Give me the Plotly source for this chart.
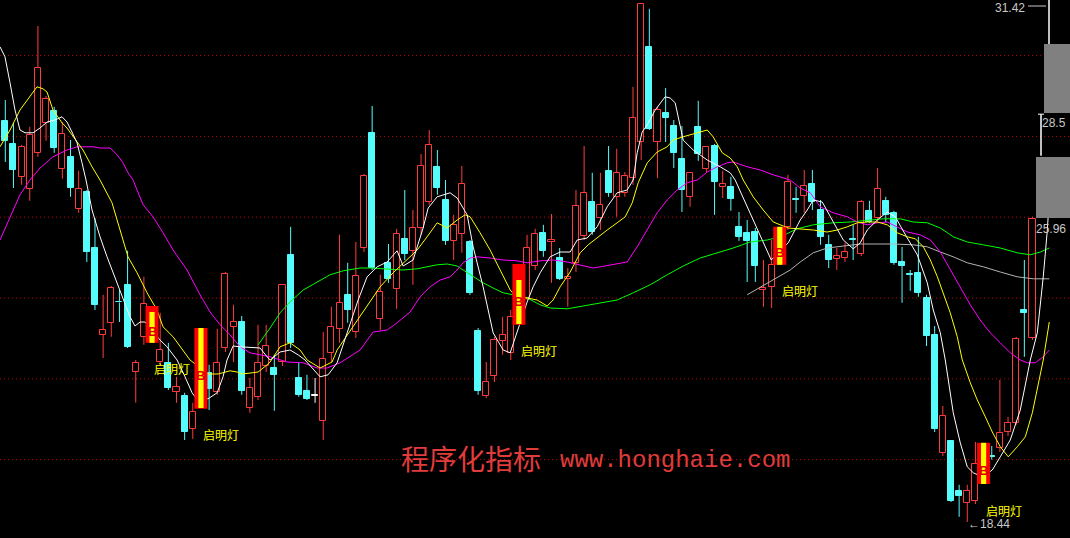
import plotly.graph_objects as go

# ---------------- data ----------------
bar_index = list(range(-1, 127))
open_price = [
    28.69,
    28.47, 27.89, 27.07, 26.77, 27.67, 28.42, 28.72, 27.27, 27.57, 26.27,
    26.69, 25.29, 23.12, 23.42, 23.95, 24.37, 22.19, 23.07, 22.92, 22.44,
    22.42, 21.69, 21.59, 20.77, 21.29, 22.17, 21.69, 22.79, 23.32, 23.44,
    21.29, 21.57, 22.34, 22.29, 22.44, 25.12, 22.04, 21.72, 21.59, 20.97,
    22.67, 23.27, 24.12, 23.19, 25.29, 28.17, 23.52, 24.92, 24.27, 25.52,
    25.22, 25.79, 26.44, 27.32, 26.49, 25.47, 25.64, 25.44, 23.22, 21.59,
    22.09, 22.97, 22.67, 23.39, 24.04, 24.84, 25.67, 25.44, 25.04, 24.52,
    24.92, 25.59, 26.44, 26.04, 27.22, 26.57, 26.67, 27.04, 27.94, 30.32,
    27.94, 28.67, 28.34, 27.52, 26.57, 28.32, 27.27, 27.84, 26.82, 26.82,
    25.82, 25.67, 25.69, 24.24, 24.32, 24.87, 25.82, 26.50, 26.59, 26.89,
    26.24, 25.37, 25.02, 25.04, 25.50, 25.14, 26.22, 26.04, 26.47, 26.17,
    24.94, 24.63, 24.67, 24.04, 23.12, 20.17, 20.47, 19.22, 18.92, 18.97,
    19.39, 20.08, 20.29, 20.69, 20.92, 23.74, 23.04,
]
high_price = [
    29.65,
    28.99, 28.42, 27.87, 28.32, 30.84, 29.09, 28.82, 28.44, 27.99, 27.22,
    26.74, 26.04, 24.12, 24.34, 24.24, 25.22, 22.49, 24.57, 23.84, 23.67,
    22.92, 22.07, 21.67, 21.42, 23.29, 22.37, 23.27, 24.69, 23.87, 23.59,
    22.04, 23.37, 23.37, 22.62, 24.39, 25.82, 22.42, 22.12, 22.04, 23.19,
    23.82, 25.62, 24.92, 25.44, 27.14, 28.84, 24.62, 25.39, 25.77, 26.74,
    26.24, 27.64, 28.24, 27.74, 26.99, 26.12, 27.34, 25.49, 23.29, 22.44,
    23.07, 23.57, 23.74, 24.89, 25.62, 25.77, 25.87, 26.14, 25.29, 24.79,
    26.74, 27.84, 27.17, 27.17, 27.84, 27.77, 27.19, 29.32, 31.42, 31.27,
    28.82, 29.29, 28.49, 28.34, 27.19, 28.97, 27.84, 27.89, 27.22, 27.07,
    26.19, 25.99, 25.79, 24.99, 25.49, 25.82, 27.12, 26.82, 27.24, 27.24,
    26.49, 25.62, 25.29, 25.42, 25.87, 26.49, 26.47, 27.29, 26.57, 26.22,
    25.32, 24.74, 25.57, 24.12, 23.34, 21.34, 20.49, 19.37, 19.37, 20.44,
    20.42, 20.34, 21.99, 21.07, 23.07, 24.99, 26.07,
]
low_price = [
    28.60,
    27.44, 26.79, 26.87, 26.47, 27.57, 27.97, 27.67, 27.02, 26.57, 26.17,
    24.94, 23.74, 22.54, 23.07, 23.44, 22.79, 21.42, 22.87, 22.92, 22.34,
    21.74, 21.42, 20.49, 20.52, 21.27, 21.24, 21.62, 22.69, 22.44, 21.62,
    21.17, 21.49, 22.19, 21.22, 22.34, 22.79, 21.57, 21.49, 21.42, 20.49,
    22.44, 22.92, 23.42, 23.04, 25.19, 24.74, 23.24, 24.42, 23.77, 24.99,
    24.37, 25.62, 26.37, 26.62, 25.37, 24.99, 25.17, 24.12, 21.62, 21.54,
    21.94, 22.62, 22.49, 23.37, 23.99, 24.74, 25.07, 24.42, 24.49, 23.82,
    24.69, 25.49, 25.62, 25.74, 26.57, 26.07, 26.57, 26.87, 27.49, 28.24,
    27.04, 27.94, 27.29, 26.19, 26.32, 27.47, 27.19, 26.12, 26.54, 26.22,
    25.47, 24.44, 24.44, 23.82, 23.79, 24.87, 25.74, 26.17, 26.17, 26.24,
    25.37, 24.79, 24.74, 24.94, 24.99, 25.09, 25.92, 25.94, 25.94, 24.87,
    23.92, 24.22, 24.07, 22.84, 20.69, 20.09, 18.94, 18.57, 18.44, 18.89,
    19.39, 20.00, 20.19, 20.59, 20.87, 22.57, 22.99,
]
close_price = [
    29.59,
    27.97, 27.24, 27.82, 28.12, 29.79, 29.02, 27.79, 28.14, 26.79, 26.77,
    25.19, 23.87, 23.24, 24.29, 23.93, 22.82, 22.42, 23.89, 23.69, 22.74,
    21.79, 21.82, 20.69, 21.19, 23.29, 21.77, 22.42, 24.64, 23.44, 21.72,
    21.79, 22.42, 22.84, 22.12, 24.37, 22.92, 21.62, 21.52, 21.59, 22.52,
    23.32, 23.92, 23.74, 24.59, 27.09, 24.79, 24.19, 24.52, 25.64, 25.14,
    25.79, 27.34, 27.87, 26.79, 25.47, 25.87, 26.89, 24.17, 21.72, 21.94,
    22.99, 23.12, 23.57, 24.49, 25.29, 25.64, 25.22, 25.49, 24.52, 24.57,
    26.34, 26.67, 25.69, 26.37, 26.67, 27.17, 27.09, 28.54, 31.40, 28.27,
    28.74, 28.54, 27.67, 26.74, 27.17, 27.64, 27.82, 26.94, 26.89, 26.52,
    25.57, 25.47, 24.84, 24.29, 24.87, 25.82, 26.94, 26.49, 26.84, 26.44,
    25.57, 24.99, 25.09, 25.19, 25.49, 26.44, 25.94, 26.77, 26.12, 24.92,
    24.84, 24.62, 24.17, 23.09, 20.77, 21.09, 18.97, 19.09, 19.22, 19.89,
    20.42, 20.07, 20.67, 20.92, 23.02, 23.67, 26.02,
]

signal_index = [18, 24, 63, 95, 120]
signal_text = "启明灯"

# moving-average style lines, sampled along the bars (bar position, price)
white_x = [-0.65, -0.04, 0.58, 1.19, 1.80, 2.42, 3.40, 4.26, 5.12, 6.10, 6.96, 7.57, 8.18, 8.80, 9.41, 9.90,
           10.64, 11.62, 12.48, 13.21, 14.44, 15.30, 15.91, 16.53, 17.14, 18.98, 19.84, 21.07, 22.05, 22.91,
           23.28, 24.87, 25.98, 26.71, 27.20, 27.94, 28.80, 31.25, 32.11, 32.48, 33.71, 34.93, 35.91, 36.77,
           38.61, 39.60, 40.70, 41.93, 43.28, 44.38, 45.61, 46.83, 48.06, 48.80, 50.02, 51.25, 51.87, 52.97,
           54.56, 55.42, 56.65, 57.39, 58.61, 59.84, 61.07, 61.93, 64.01, 64.75, 65.61, 66.83, 68.06, 69.29,
           70.15, 71.37, 72.60, 73.83, 75.05, 76.28, 77.02, 77.51, 78.12, 78.74, 79.72, 80.94, 81.56, 82.17,
           83.15, 84.38, 86.10, 87.69, 88.92, 89.53, 91.00, 92.60, 93.95, 96.04, 97.51, 98.37, 99.10, 100.21,
           101.19, 102.79, 104.01, 104.87, 105.73, 106.96, 108.18, 109.17, 110.64, 111.87, 113.09, 113.83,
           114.69, 115.30, 116.28, 117.14, 118.00, 118.74, 119.84, 121.07, 122.05, 123.27, 124.50, 125.73,
           126.59, 127.32, 127.82, 128.06]
white_y = [30.32, 30.07, 29.42, 28.74, 28.24, 28.17, 28.17, 28.29, 28.44, 28.49, 28.57, 28.44, 28.19, 27.92,
           27.42, 26.99, 26.24, 25.57, 25.07, 24.67, 23.99, 23.57, 23.34, 23.44, 23.44, 22.99, 22.82, 22.49,
           22.07, 21.67, 21.57, 21.52, 21.67, 22.07, 22.49, 22.84, 22.82, 22.79, 22.57, 22.49, 22.69, 22.74,
           22.62, 22.49, 22.07, 22.12, 22.42, 23.17, 23.99, 24.57, 24.82, 24.94, 25.22, 24.84, 24.99, 25.79,
           26.29, 26.57, 26.67, 26.54, 26.12, 25.32, 24.32, 23.17, 22.74, 22.67, 23.94, 24.32, 24.67, 25.07,
           25.19, 25.19, 25.49, 25.54, 25.82, 26.32, 26.67, 26.74, 26.99, 27.67, 28.19, 28.37, 28.74, 29.07,
           29.04, 28.92, 27.99, 27.74, 27.49, 27.32, 27.17, 26.99, 26.32, 25.57, 24.99, 25.42, 25.99, 26.24,
           26.49, 26.44, 26.07, 25.49, 25.27, 25.42, 25.74, 25.99, 26.19, 26.07, 25.54, 25.12, 24.42, 23.74,
           23.17, 22.49, 21.17, 20.42, 19.82, 19.67, 19.57, 19.74, 20.07, 20.49, 21.24, 22.49, 23.17, 24.57,
           25.74, 26.54]

yellow_x = [-0.65, 0.58, 1.80, 3.03, 3.89, 4.63, 5.12, 5.85, 6.96, 7.57, 8.31, 9.53, 10.64, 11.62, 13.09,
            14.07, 15.05, 16.16, 17.39, 18.61, 19.35, 20.58, 21.80, 22.66, 23.28, 24.87, 26.10, 27.57, 28.43,
            29.04, 30.27, 31.01, 32.11, 32.48, 33.71, 34.93, 36.16, 37.02, 38.61, 40.08, 40.70, 42.66, 44.38,
            45.98, 47.57, 49.29, 50.52, 51.74, 52.97, 54.20, 55.42, 56.40, 57.02, 58.24, 59.47, 60.70, 61.93,
            62.79, 64.01, 65.24, 66.47, 67.20, 68.06, 69.29, 70.52, 71.50, 72.72, 73.83, 75.05, 76.04, 76.90,
            77.63, 78.74, 79.96, 81.19, 81.93, 83.15, 84.38, 86.10, 86.83, 87.94, 88.92, 89.78, 90.52, 91.74,
            92.97, 94.20, 96.04, 97.51, 99.10, 100.82, 102.05, 103.28, 104.50, 105.73, 106.96, 108.18, 109.41,
            110.64, 111.63, 112.61, 113.47, 114.33, 115.06, 115.91, 116.77, 117.39, 118.37, 119.23, 120.21,
            121.07, 122.05, 123.03, 124.13, 125.12, 125.98, 126.71, 127.32, 128.06]
yellow_y = [27.82, 28.24, 28.74, 29.07, 29.32, 29.27, 29.19, 28.74, 28.42, 28.29, 28.07, 27.74, 27.32, 26.99,
            26.42, 25.74, 25.07, 24.67, 24.17, 23.74, 23.32, 23.07, 22.74, 22.49, 22.39, 22.14, 22.14, 22.22,
            22.19, 22.14, 22.17, 22.19, 22.37, 22.44, 22.82, 22.92, 22.74, 22.49, 22.29, 22.44, 22.74, 23.32,
            23.82, 24.32, 24.67, 24.99, 25.24, 25.57, 25.92, 25.79, 25.99, 26.12, 26.07, 25.67, 25.24, 24.74,
            24.24, 24.04, 24.04, 23.99, 23.84, 23.99, 24.32, 24.69, 25.17, 25.37, 25.57, 25.74, 25.92, 26.07,
            26.42, 26.92, 27.42, 27.69, 27.82, 27.99, 28.07, 28.14, 28.24, 28.07, 27.67, 27.54, 27.32, 26.99,
            26.57, 26.24, 25.94, 25.79, 25.77, 25.74, 25.69, 25.74, 25.82, 25.92, 25.94, 25.94, 25.87, 25.67,
            25.57, 25.52, 25.32, 24.99, 24.57, 24.17, 23.67, 23.07, 22.49, 21.92, 21.49, 21.07, 20.69, 20.32,
            20.07, 20.32, 20.57, 21.17, 21.92, 22.49, 23.44]

magenta_x = [-0.65, 0.58, 1.80, 3.03, 4.26, 5.85, 7.57, 8.80, 10.76, 11.62, 12.85, 13.71, 14.44, 15.06,
             15.67, 16.90, 18.12, 19.35, 20.58, 22.29, 23.89, 25.12, 26.34, 27.57, 28.80, 30.02, 31.25, 32.48,
             34.56, 36.53, 38.25, 39.47, 41.07, 43.52, 45.12, 46.83, 48.06, 49.66, 50.88, 52.11, 53.34, 54.56,
             55.42, 56.16, 57.02, 57.88, 59.47, 61.07, 62.79, 64.01, 65.61, 67.20, 68.92, 70.52, 72.11, 72.97,
             74.56, 76.28, 77.51, 78.74, 79.96, 81.19, 82.42, 83.64, 84.87, 86.10, 87.32, 88.55, 89.29, 91.00,
             92.60, 94.20, 95.42, 96.28, 97.51, 98.74, 99.96, 101.56, 103.28, 104.50, 105.73, 106.96, 108.18,
             109.41, 110.64, 112.23, 113.47, 114.69, 115.91, 117.14, 118.37, 119.58, 120.82, 122.05, 123.27,
             124.50, 125.36, 126.34, 127.32, 128.06]
magenta_y = [25.49, 26.07, 26.62, 26.99, 27.29, 27.57, 27.74, 27.82, 27.82, 27.79, 27.79, 27.62, 27.42, 27.17,
             26.99, 26.37, 26.07, 25.67, 25.24, 24.74, 24.12, 23.69, 23.37, 23.12, 22.82, 22.67, 22.62, 22.57,
             22.44, 22.42, 22.29, 22.29, 22.42, 22.74, 23.19, 23.24, 23.42, 23.69, 24.07, 24.32, 24.49, 24.57,
             24.74, 24.92, 25.04, 25.07, 25.04, 24.99, 24.97, 24.92, 24.97, 24.99, 24.94, 24.87, 24.79, 24.82,
             24.87, 24.94, 25.32, 25.74, 26.17, 26.49, 26.74, 26.92, 26.99, 27.19, 27.32, 27.42, 27.44, 27.32,
             27.24, 27.12, 27.04, 26.99, 26.79, 26.67, 26.32, 26.17, 26.07, 25.94, 25.87, 25.92, 25.94, 25.82,
             25.69, 25.62, 25.49, 25.19, 24.74, 24.32, 23.87, 23.49, 23.17, 22.92, 22.67, 22.49, 22.42, 22.42,
             22.57, 22.74]

green_x = [31.01, 32.11, 32.48, 33.71, 34.93, 36.53, 38.25, 39.84, 41.44, 43.52, 44.75, 46.83, 48.80, 50.52,
           51.74, 52.97, 54.20, 55.42, 56.16, 57.39, 58.61, 59.84, 61.07, 62.29, 64.01, 65.61, 66.83, 68.92,
           70.88, 72.97, 75.05, 77.02, 79.10, 81.19, 83.15, 85.24, 87.32, 89.29, 91.37, 93.46, 95.06, 97.14,
           99.10, 101.56, 103.64, 105.73, 107.69, 109.78, 111.37, 113.09, 114.69, 116.28, 118.00, 119.96,
           122.05, 124.13, 125.73, 126.96, 128.06]
green_y = [22.87, 23.17, 23.29, 23.67, 23.94, 24.24, 24.44, 24.62, 24.72, 24.79, 24.79, 24.77, 24.74, 24.77,
           24.82, 24.87, 24.89, 24.84, 24.74, 24.57, 24.42, 24.29, 24.17, 24.12, 24.04, 23.87, 23.79, 23.77,
           23.84, 23.92, 23.99, 24.17, 24.37, 24.62, 24.84, 25.04, 25.17, 25.29, 25.44, 25.49, 25.57, 25.77,
           25.87, 25.92, 25.94, 25.99, 26.02, 26.02, 25.94, 25.92, 25.79, 25.57, 25.44, 25.37, 25.29, 25.17,
           25.12, 25.19, 25.29]

grey_x = [91.00, 94.20, 96.28, 97.51, 99.10, 100.82, 102.79, 104.87, 106.96, 108.92, 111.37, 113.09, 114.69,
          116.28, 118.00, 119.96, 122.05, 124.13, 126.10, 128.06]
grey_y = [24.12, 24.49, 24.74, 24.94, 25.17, 25.29, 25.34, 25.39, 25.39, 25.39, 25.37, 25.32, 25.19, 25.07,
          24.92, 24.82, 24.69, 24.57, 24.52, 24.52]

grid_levels = [20.0, 22.02, 24.04, 26.06, 28.08, 30.1]
band_top = [30.39, 27.565]
band_bottom = [28.665, 26.04]
band_left_px = [1044, 1036]
period_high = 31.42
period_low = 18.44
side_labels = ["28.5", "25.96"]
side_label_price = [28.42, 25.77]
watermark_cn = "程序化指标"
watermark_url = "www.honghaie.com"

# ---------------- styling ----------------
W, H = 1070, 538
X_RANGE = [-0.65, 130.6]
Y_RANGE = [18.04, 31.49]
RED = "#ff3c3c"
CYAN = "#54fcfc"
BG = "#000000"


def px_to_paper(px):
    return px / W


fig = go.Figure()

groups = {
    "up": dict(x=[], base=[], h=[], wx=[], wy=[]),
    "down": dict(x=[], base=[], h=[], wx=[], wy=[]),
    "flat": dict(x=[], base=[], h=[], wx=[], wy=[]),
}
for i, o, hi, lo, c in zip(bar_index, open_price, high_price, low_price, close_price):
    if i in signal_index:
        continue
    kind = "up" if c > o else ("down" if c < o else "flat")
    top, bot = max(o, c), min(o, c)
    g = groups[kind]
    g["x"].append(i)
    g["base"].append(bot)
    g["h"].append(max(top - bot, 0.015))
    g["wx"] += [i, i, None, i, i, None]
    g["wy"] += [hi, top, None, bot, lo, None]

style = {
    "up": (BG, RED),
    "down": (CYAN, CYAN),
    "flat": ("#ffffff", "#ffffff"),
}
for kind, g in groups.items():
    fill, edge = style[kind]
    fig.add_trace(go.Bar(x=g["x"], y=g["h"], base=g["base"], width=0.74,
                         marker=dict(color=fill, line=dict(color=edge, width=1)),
                         hoverinfo="skip", showlegend=False))
for kind, g in groups.items():
    fill, edge = style[kind]
    fig.add_trace(go.Scatter(x=g["wx"], y=g["wy"], mode="lines",
                             line=dict(color=edge, width=1), hoverinfo="skip", showlegend=False))

for xs, ys, col in [(grey_x, grey_y, "#b4b4b4"), (green_x, green_y, "#00ff00"),
                    (magenta_x, magenta_y, "#ff00ff"), (yellow_x, yellow_y, "#ffff00"),
                    (white_x, white_y, "#ffffff")]:
    fig.add_trace(go.Scatter(x=xs, y=ys, mode="lines", line=dict(color=col, width=1),
                             hoverinfo="skip", showlegend=False))

shapes = []
for lv in grid_levels:
    shapes.append(dict(type="line", xref="paper", yref="y", x0=0, x1=1, y0=lv, y1=lv,
                       line=dict(color="#c00000", width=1, dash="1px,3px"), layer="below"))

annotations = []
for s in signal_index:
    k = bar_index.index(s)
    o, hi, lo, c = open_price[k], high_price[k], low_price[k], close_price[k]
    shapes.append(dict(type="rect", xref="x", yref="y", x0=s - 0.8, x1=s + 0.8, y0=lo, y1=hi,
                       fillcolor="#ff0000", line=dict(width=0), layer="above"))
    shapes.append(dict(type="rect", xref="x", yref="y", x0=s - 0.32, x1=s + 0.32,
                       y0=min(o, c), y1=max(o, c), fillcolor="#ffff00", line=dict(width=0), layer="above"))
    annotations.append(dict(x=s, y=(hi + lo) / 2, xref="x", yref="y", text="<b>B</b>", showarrow=False,
                            yshift=-7, font=dict(family="Liberation Sans", size=13, color="#e00000")))
    annotations.append(dict(x=s, y=lo, xref="x", yref="y", text=signal_text, showarrow=False,
                            xanchor="left", yanchor="middle", yshift=-26,
                            font=dict(family="Noto Sans CJK SC", size=12, color="#ffff00")))

# right-hand price panel
for t, b, lpx in zip(band_top, band_bottom, band_left_px):
    shapes.append(dict(type="rect", xref="paper", yref="y", x0=px_to_paper(lpx), x1=1, y0=b, y1=t,
                       fillcolor="#808080", line=dict(width=0), layer="above"))
shapes.append(dict(type="line", xref="paper", yref="y", x0=px_to_paper(1049), x1=px_to_paper(1049),
                   y0=band_top[0], y1=Y_RANGE[1], line=dict(color="#ffffff", width=1.5), layer="above"))
shapes.append(dict(type="line", xref="paper", yref="y", x0=px_to_paper(1041), x1=px_to_paper(1041),
                   y0=band_top[1] + 0.03, y1=band_bottom[0] - 0.03, line=dict(color="#ffffff", width=1.5),
                   layer="above"))
shapes.append(dict(type="line", xref="paper", yref="y", x0=px_to_paper(1038), x1=px_to_paper(1044),
                   y0=band_bottom[0] - 0.03, y1=band_bottom[0] - 0.03, line=dict(color="#ffffff", width=1),
                   layer="above"))
shapes.append(dict(type="line", xref="paper", yref="y", x0=px_to_paper(1028), x1=px_to_paper(1046),
                   y0=period_high - 0.08, y1=period_high - 0.08, line=dict(color="#c8c8c8", width=1),
                   layer="above"))

annotations.append(dict(x=px_to_paper(1027), y=period_high, xref="paper", yref="y", text=f"{period_high:.2f}",
                        showarrow=False, xanchor="right", yanchor="middle", yshift=-5,
                        font=dict(family="Liberation Sans", size=12, color="#c8c8c8")))
annotations.append(dict(x=px_to_paper(966), y=period_low - 0.05, xref="paper", yref="y",
                        text=f"←{period_low:.2f}", showarrow=False, xanchor="left", yanchor="middle",
                        font=dict(family="Liberation Sans", size=12, color="#c8c8c8")))
for txt, pr in zip(side_labels, side_label_price):
    annotations.append(dict(x=px_to_paper(1068), y=pr, xref="paper", yref="y", text=txt, showarrow=False,
                            xanchor="right", yanchor="middle",
                            font=dict(family="Liberation Sans", size=12, color="#c8c8c8")))

annotations.append(dict(x=px_to_paper(399), y=1 - 458 / H, xref="paper", yref="paper", text=watermark_cn,
                        showarrow=False, xanchor="left", yanchor="middle",
                        font=dict(family="Noto Sans CJK SC", size=28, color="#e03c3c")))
annotations.append(dict(x=px_to_paper(558), y=1 - 460 / H, xref="paper", yref="paper", text=watermark_url,
                        showarrow=False, xanchor="left", yanchor="middle",
                        font=dict(family="Liberation Mono", size=24, color="#e03c3c")))

fig.update_layout(
    width=W, height=H, margin=dict(l=0, r=0, t=0, b=0),
    paper_bgcolor=BG, plot_bgcolor=BG, barmode="overlay", bargap=0,
    xaxis=dict(visible=False, range=X_RANGE, fixedrange=True),
    yaxis=dict(visible=False, range=Y_RANGE, fixedrange=True),
    shapes=shapes, annotations=annotations, showlegend=False,
)

fig.write_html("out.html", config={"displayModeBar": False},
               post_script="document.body.style.margin='0';document.body.style.overflow='hidden';")
